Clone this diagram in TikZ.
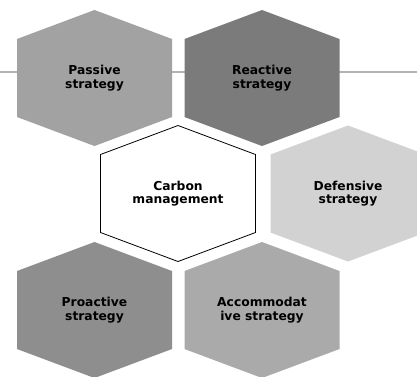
\documentclass[tikz,border=0pt]{standalone}
\usepackage{fontspec}
\newfontfamily\lblfont{DejaVu Sans}
\definecolor{cPassive}{HTML}{A2A2A2}
\definecolor{cReactive}{HTML}{7B7B7B}
\definecolor{cDefensive}{HTML}{D2D2D2}
\definecolor{cProactive}{HTML}{8E8E8E}
\definecolor{cAccom}{HTML}{AAAAAA}
\definecolor{cLine}{HTML}{B4B4B4}
\newcommand\hexpath[1]{(#1) ++(0,-68) -- ++(77.5,29) -- ++(0,78) -- ++(-77.5,29) -- ++(-77.5,-29) -- ++(0,-78) -- cycle}
\tikzset{
  lbl/.style={font=\lblfont\bfseries\fontsize{12.3}{13.5}\selectfont, align=center, text=black, inner sep=0pt},
  hexfill/.style={fill=#1, draw=none},
  baseline rule/.style={draw=cLine, line width=1.5pt}
}
\begin{document}
\begin{tikzpicture}[x=1pt,y=-1pt]
\useasboundingbox (0,0) rectangle (417,376);
\clip (0,0) rectangle (417,376);
\fill[white] (0,0) rectangle (417,376);
\coordinate (lineL) at (0,72);
\coordinate (lineR) at (417,72);
\draw[baseline rule] (lineL) -- (lineR);
\coordinate (cP) at (94.5,78);
\coordinate (cR) at (262,78);
\coordinate (cC) at (178,193.5);
\coordinate (cD) at (348,193.5);
\coordinate (cA) at (94.5,310);
\coordinate (cM) at (262,310);
\path[hexfill=cPassive] \hexpath{cP};
\path[hexfill=cReactive] \hexpath{cR};
\path[fill=white, draw=black, line width=0.8pt] \hexpath{cC};
\path[hexfill=cDefensive] \hexpath{cD};
\path[hexfill=cProactive] \hexpath{cA};
\path[hexfill=cAccom] \hexpath{cM};
\node[lbl] (passive) at (cP) {Passive\\strategy};
\node[lbl] (reactive) at (cR) {Reactive\\strategy};
\node[lbl] (carbon) at (cC) {Carbon\\management};
\node[lbl] (defensive) at (cD) {Defensive\\strategy};
\node[lbl] (proactive) at (cA) {Proactive\\strategy};
\node[lbl] (accom) at (cM) {Accommodat\\ive strategy};
\end{tikzpicture}
\end{document}
